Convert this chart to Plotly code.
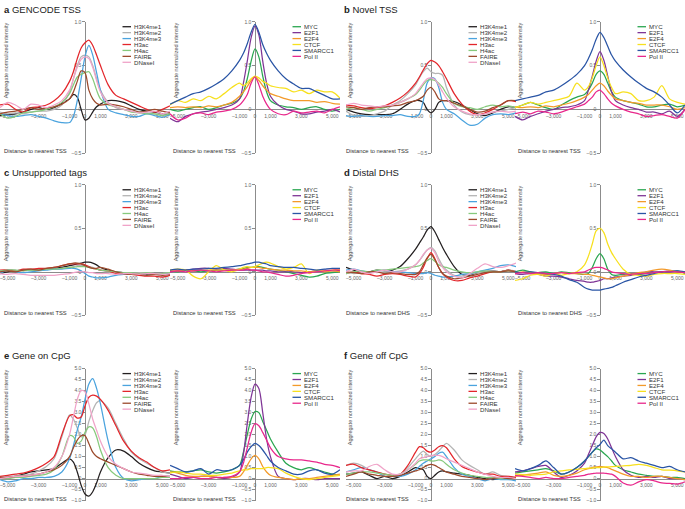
import plotly.graph_objects as go

W, H = 685, 509

# distance to nearest TSS / DHS (bp)
BP = [-5500, -5000, -4500, -4000, -3500, -3000, -2500, -2000, -1500, -1000, -750, -500, -250,
      0, 250, 500, 750, 1000, 1500, 2000, 2500, 3000, 3500, 4000, 4500, 5000, 5500]

MARK_NAMES = ["H3K4me1", "H3K4me2", "H3K4me3", "H3ac", "H4ac", "FAIRE", "DNaseI"]
TF_NAMES = ["MYC", "E2F1", "E2F4", "CTCF", "SMARCC1", "Pol II"]
MARK_COLORS = ["#231f20", "#b4b4b4", "#4aa3de", "#e3262b", "#86c97c", "#9c4a2c", "#f0a3c8"]
TF_COLORS = ["#2aa650", "#7f3596", "#f39a2a", "#f7e01e", "#2a55a5", "#e8288c"]

# ---- a GENCODE TSS ----
A_MARKS = [
    [-0.07, -0.06, -0.05, -0.03, 0.0, 0.02, 0.0, 0.02, 0.07, 0.12, 0.17, 0.14, 0.0, -0.12, -0.1, -0.03, 0.03, 0.06, 0.1, 0.1, 0.08, 0.04, 0.0, -0.02, -0.03, -0.05, -0.06],
    [-0.03, -0.05, -0.04, -0.05, -0.03, -0.02, -0.02, 0.0, 0.05, 0.2, 0.35, 0.5, 0.6, 0.62, 0.6, 0.5, 0.35, 0.22, 0.08, 0.02, 0.0, -0.02, -0.02, -0.04, -0.05, -0.06, -0.04],
    [-0.05, -0.07, -0.08, -0.07, -0.06, -0.08, -0.1, -0.13, -0.15, -0.15, -0.08, 0.1, 0.35, 0.6, 0.73, 0.62, 0.42, 0.22, 0.0, -0.04, -0.06, -0.08, -0.08, -0.05, -0.07, -0.09, -0.06],
    [0.05, 0.06, 0.0, -0.03, 0.02, 0.03, 0.05, 0.1, 0.18, 0.32, 0.43, 0.58, 0.7, 0.76, 0.79, 0.73, 0.62, 0.5, 0.28, 0.16, 0.12, 0.08, 0.04, 0.0, -0.03, 0.0, 0.04],
    [-0.05, -0.1, -0.08, -0.04, -0.03, -0.02, 0.0, 0.03, 0.08, 0.18, 0.28, 0.37, 0.4, 0.42, 0.43, 0.35, 0.22, 0.12, 0.05, 0.03, 0.0, -0.03, -0.04, -0.05, -0.05, -0.07, -0.05],
    [-0.05, -0.03, -0.02, 0.0, 0.02, 0.0, 0.02, 0.03, 0.06, 0.12, 0.2, 0.32, 0.44, 0.42, 0.22, 0.12, 0.07, 0.05, 0.06, 0.05, 0.03, 0.0, -0.03, -0.02, 0.0, -0.02, -0.04],
    [0.02, 0.08, 0.05, 0.0, 0.06, 0.05, 0.02, 0.05, 0.1, 0.22, 0.35, 0.48, 0.57, 0.6, 0.58, 0.48, 0.33, 0.2, 0.07, 0.03, 0.0, -0.02, -0.04, -0.03, -0.02, -0.05, -0.02],
]
A_TFS = [
    [0.0, -0.02, 0.0, 0.02, 0.03, 0.0, 0.02, 0.05, 0.07, 0.12, 0.2, 0.35, 0.55, 0.69, 0.6, 0.38, 0.2, 0.1, 0.05, 0.03, 0.02, 0.0, 0.02, 0.03, 0.0, -0.02, 0.0],
    [-0.1, -0.14, -0.08, -0.05, -0.03, -0.02, 0.0, 0.02, 0.05, 0.12, 0.3, 0.55, 0.82, 0.95, 0.85, 0.55, 0.3, 0.15, 0.05, 0.0, -0.02, -0.05, -0.05, -0.03, -0.02, 0.0, -0.03],
    [0.02, 0.03, 0.02, 0.03, 0.02, 0.04, 0.03, 0.05, 0.08, 0.15, 0.2, 0.26, 0.33, 0.37, 0.33, 0.27, 0.22, 0.18, 0.15, 0.12, 0.1, 0.1, 0.1, 0.08, 0.09, 0.07, 0.06],
    [0.05, 0.1, 0.08, 0.12, 0.1, 0.15, 0.12, 0.18, 0.25, 0.3, 0.27, 0.3, 0.35, 0.38, 0.36, 0.32, 0.3, 0.27, 0.25, 0.24, 0.2, 0.22, 0.18, 0.22, 0.2, 0.2, 0.13],
    [0.06, 0.1, 0.14, 0.18, 0.2, 0.24, 0.29, 0.35, 0.44, 0.56, 0.64, 0.75, 0.88, 0.97, 0.88, 0.74, 0.64, 0.56, 0.44, 0.35, 0.29, 0.24, 0.24, 0.2, 0.16, 0.12, 0.12],
    [-0.05, -0.12, -0.1, -0.05, -0.04, -0.06, -0.03, -0.02, 0.0, 0.05, 0.1, 0.17, 0.3, 0.37, 0.28, 0.15, 0.06, 0.0, -0.05, -0.06, -0.02, -0.04, -0.03, -0.02, -0.04, 0.0, 0.03],
]

# ---- b Novel TSS ----
B_MARKS = [
    [0.0, -0.03, -0.05, -0.06, -0.06, -0.06, -0.05, 0.0, 0.06, 0.1, 0.1, 0.08, 0.0, -0.04, 0.0, 0.08, 0.1, 0.1, 0.09, 0.05, 0.0, -0.05, -0.07, -0.04, 0.0, 0.03, 0.02],
    [-0.02, -0.07, -0.08, -0.07, -0.05, -0.02, 0.05, 0.1, 0.18, 0.28, 0.36, 0.43, 0.47, 0.43, 0.41, 0.41, 0.39, 0.25, 0.05, -0.03, -0.06, -0.06, -0.05, -0.03, -0.02, 0.0, 0.02],
    [-0.07, -0.08, -0.07, -0.08, -0.08, -0.07, -0.07, -0.06, -0.08, -0.08, -0.05, 0.1, 0.3, 0.36, 0.35, 0.25, 0.08, 0.0, -0.05, -0.12, -0.18, -0.17, -0.1, -0.06, -0.05, -0.06, -0.04],
    [0.05, 0.04, 0.02, 0.01, 0.02, 0.04, 0.08, 0.13, 0.2, 0.3, 0.37, 0.45, 0.52, 0.56, 0.54, 0.5, 0.43, 0.35, 0.18, 0.06, -0.02, -0.06, -0.04, 0.0, 0.05, 0.1, 0.09],
    [0.0, 0.02, 0.0, -0.02, 0.0, 0.02, 0.05, 0.08, 0.12, 0.17, 0.22, 0.28, 0.33, 0.34, 0.33, 0.3, 0.25, 0.18, 0.07, 0.03, 0.02, 0.0, 0.03, 0.05, 0.03, 0.04, 0.02],
    [0.03, 0.02, 0.0, 0.02, 0.03, 0.03, 0.04, 0.05, 0.08, 0.1, 0.12, 0.15, 0.22, 0.25, 0.2, 0.12, 0.1, 0.1, 0.07, 0.04, 0.0, -0.03, -0.02, 0.02, 0.05, 0.1, 0.1],
    [0.05, 0.07, 0.05, 0.04, 0.03, 0.04, 0.05, 0.08, 0.12, 0.18, 0.24, 0.3, 0.35, 0.36, 0.34, 0.28, 0.2, 0.13, 0.03, -0.02, -0.05, -0.06, -0.05, -0.03, -0.02, -0.03, -0.02],
]
B_TFS = [
    [0.02, 0.05, 0.08, 0.05, 0.02, 0.0, 0.05, 0.1, 0.14, 0.17, 0.22, 0.3, 0.4, 0.44, 0.4, 0.3, 0.2, 0.14, 0.1, 0.08, 0.06, 0.03, 0.03, 0.05, 0.06, 0.03, 0.05],
    [-0.08, -0.12, -0.08, -0.05, -0.02, 0.0, 0.02, 0.03, 0.05, 0.1, 0.22, 0.38, 0.55, 0.66, 0.56, 0.38, 0.2, 0.1, 0.05, 0.02, 0.0, -0.03, -0.03, -0.05, -0.02, -0.08, 0.0],
    [0.03, 0.02, 0.03, 0.02, 0.04, 0.03, 0.05, 0.07, 0.1, 0.14, 0.17, 0.22, 0.27, 0.3, 0.27, 0.21, 0.16, 0.12, 0.1, 0.08, 0.07, 0.05, 0.05, 0.05, 0.03, 0.0, 0.02],
    [0.02, 0.05, 0.08, 0.06, 0.08, 0.1, 0.12, 0.15, 0.3, 0.22, 0.26, 0.36, 0.5, 0.6, 0.5, 0.36, 0.25, 0.18, 0.2, 0.18, 0.1, 0.1, 0.14, 0.27, 0.12, 0.08, 0.06],
    [0.1, 0.12, 0.14, 0.16, 0.2, 0.22, 0.27, 0.33, 0.4, 0.5, 0.58, 0.68, 0.8, 0.88, 0.82, 0.72, 0.62, 0.55, 0.45, 0.37, 0.3, 0.24, 0.2, 0.14, 0.05, -0.04, 0.05],
    [-0.05, -0.03, -0.05, -0.02, -0.03, -0.05, -0.03, 0.0, 0.03, 0.06, 0.1, 0.14, 0.2, 0.22, 0.18, 0.12, 0.07, 0.04, 0.0, -0.03, -0.05, -0.08, -0.07, -0.06, -0.08, -0.1, 0.0],
]

# ---- c Unsupported tags ----
C_MARKS = [
    [-0.02, 0.0, 0.01, 0.02, 0.02, 0.02, 0.03, 0.04, 0.05, 0.07, 0.08, 0.09, 0.1, 0.11, 0.11, 0.1, 0.08, 0.05, 0.02, 0.0, -0.01, -0.02, -0.02, -0.03, -0.02, -0.03, -0.02],
    [0.0, 0.02, 0.02, 0.01, 0.02, 0.02, 0.03, 0.03, 0.04, 0.05, 0.06, 0.07, 0.07, 0.07, 0.06, 0.05, 0.03, 0.02, 0.0, -0.01, -0.01, -0.02, -0.01, -0.01, -0.02, -0.02, -0.01],
    [-0.02, 0.02, 0.0, -0.01, 0.0, 0.01, 0.02, 0.03, 0.03, 0.04, 0.04, 0.03, 0.01, -0.02, -0.05, -0.06, -0.07, -0.07, -0.06, -0.04, -0.03, -0.02, -0.03, -0.02, -0.03, -0.03, -0.02],
    [0.02, 0.02, 0.01, 0.03, 0.03, 0.04, 0.04, 0.05, 0.07, 0.09, 0.09, 0.09, 0.09, 0.08, 0.06, 0.04, 0.03, 0.02, 0.01, -0.02, -0.02, -0.03, -0.04, -0.05, -0.05, -0.06, -0.04],
    [0.01, 0.02, 0.02, 0.01, 0.02, 0.02, 0.03, 0.03, 0.04, 0.05, 0.05, 0.06, 0.06, 0.06, 0.05, 0.04, 0.03, 0.02, 0.01, 0.0, -0.01, -0.01, -0.02, -0.01, -0.02, -0.02, -0.01],
    [0.0, 0.01, 0.0, 0.02, 0.03, 0.02, 0.04, 0.05, 0.07, 0.09, 0.1, 0.1, 0.09, 0.07, 0.05, 0.04, 0.04, 0.05, 0.03, 0.0, -0.02, -0.03, -0.03, -0.04, -0.03, -0.04, -0.03],
    [-0.02, -0.03, -0.02, -0.03, -0.04, -0.04, -0.04, -0.04, -0.03, -0.02, -0.01, 0.0, 0.0, 0.0, -0.01, -0.01, -0.02, -0.02, -0.02, -0.03, -0.02, -0.02, -0.03, -0.02, -0.02, -0.03, -0.02],
]
C_TFS = [
    [0.01, 0.0, 0.02, 0.01, 0.0, 0.01, 0.02, 0.02, 0.02, 0.03, 0.04, 0.05, 0.05, 0.06, 0.06, 0.05, 0.04, 0.03, 0.02, 0.0, -0.02, -0.04, -0.06, -0.05, -0.02, -0.01, 0.0],
    [0.0, 0.01, 0.02, 0.03, 0.04, 0.04, 0.03, 0.04, 0.03, 0.02, 0.02, 0.02, 0.02, 0.02, 0.02, 0.02, 0.01, 0.01, 0.0, 0.0, 0.0, -0.01, 0.0, 0.01, 0.02, 0.01, 0.02],
    [0.01, 0.01, 0.02, 0.01, 0.02, 0.02, 0.02, 0.02, 0.02, 0.03, 0.03, 0.04, 0.05, 0.05, 0.05, 0.04, 0.04, 0.03, 0.02, 0.02, 0.01, 0.01, 0.0, 0.01, 0.0, 0.01, 0.0],
    [0.02, 0.03, 0.02, -0.05, -0.08, 0.0, 0.07, 0.02, 0.0, 0.03, 0.05, 0.06, 0.05, 0.06, 0.08, 0.1, 0.11, 0.1, 0.06, 0.03, 0.05, 0.09, -0.02, 0.02, 0.01, 0.02, 0.03],
    [0.02, 0.03, 0.02, 0.03, 0.03, 0.04, 0.04, 0.05, 0.06, 0.07, 0.08, 0.09, 0.1, 0.11, 0.11, 0.1, 0.09, 0.07, 0.06, 0.05, 0.05, 0.04, 0.03, 0.02, 0.03, 0.04, 0.04],
    [0.0, 0.01, 0.0, 0.01, 0.02, 0.01, 0.0, 0.01, 0.02, 0.02, 0.02, 0.03, 0.02, 0.02, 0.01, 0.0, 0.0, -0.01, -0.03, -0.05, -0.04, -0.02, -0.01, 0.0, 0.01, 0.02, 0.02],
]

# ---- d Distal DHS ----
D_MARKS = [
    [0.05, 0.02, -0.01, 0.0, 0.02, 0.01, 0.02, 0.06, 0.15, 0.26, 0.33, 0.4, 0.48, 0.52, 0.46, 0.37, 0.28, 0.2, 0.06, -0.03, -0.04, -0.01, 0.0, 0.01, 0.0, 0.02, 0.0],
    [0.0, -0.02, -0.01, 0.0, -0.01, 0.0, 0.0, 0.01, 0.03, 0.08, 0.13, 0.19, 0.25, 0.28, 0.24, 0.15, 0.07, 0.02, -0.04, -0.05, -0.03, -0.01, 0.0, 0.01, 0.0, 0.02, 0.01],
    [0.02, 0.03, 0.01, 0.0, 0.01, 0.02, 0.0, 0.0, -0.01, -0.02, -0.02, -0.02, -0.01, -0.02, -0.04, -0.05, -0.06, -0.06, -0.05, -0.03, -0.02, 0.0, 0.02, 0.04, 0.07, 0.08, 0.06],
    [-0.02, 0.0, -0.02, -0.03, -0.05, -0.03, -0.02, -0.03, -0.05, -0.06, -0.02, 0.05, 0.15, 0.22, 0.15, 0.05, -0.02, -0.06, -0.1, -0.1, -0.07, -0.05, -0.02, 0.0, 0.0, 0.02, 0.0],
    [-0.02, 0.0, 0.01, 0.0, 0.02, 0.02, 0.03, 0.04, 0.05, 0.06, 0.07, 0.1, 0.13, 0.15, 0.12, 0.08, 0.06, 0.05, 0.02, 0.0, -0.01, 0.0, 0.01, 0.0, 0.0, 0.01, 0.0],
    [0.0, -0.01, -0.02, 0.0, 0.0, -0.02, -0.01, -0.02, -0.03, -0.03, 0.0, 0.08, 0.16, 0.2, 0.14, 0.05, -0.02, -0.05, -0.08, -0.07, -0.05, -0.03, -0.01, 0.0, 0.0, 0.01, 0.0],
    [0.0, 0.03, 0.0, -0.02, 0.0, 0.02, 0.0, 0.0, 0.03, 0.08, 0.13, 0.2, 0.25, 0.27, 0.22, 0.12, 0.05, 0.0, -0.05, -0.07, -0.02, 0.04, 0.09, 0.06, 0.05, 0.07, 0.1],
]
D_TFS = [
    [0.0, 0.02, 0.0, -0.01, 0.0, -0.02, 0.0, -0.01, -0.02, -0.03, -0.02, 0.05, 0.15, 0.21, 0.15, 0.03, -0.03, -0.04, -0.03, -0.02, -0.03, -0.02, -0.01, 0.0, 0.0, 0.01, -0.02],
    [-0.02, -0.03, -0.02, -0.03, -0.05, -0.05, -0.06, -0.08, -0.1, -0.11, -0.12, -0.12, -0.11, -0.1, -0.08, -0.08, -0.07, -0.06, -0.05, -0.04, -0.02, 0.0, 0.0, 0.0, 0.01, 0.0, -0.01],
    [-0.02, 0.0, -0.01, -0.02, -0.03, -0.02, -0.01, -0.02, -0.02, -0.03, -0.03, -0.04, -0.05, -0.06, -0.07, -0.08, -0.08, -0.07, -0.05, -0.03, -0.01, 0.0, 0.02, 0.03, 0.02, 0.0, 0.0],
    [-0.1, -0.08, -0.04, -0.03, -0.05, -0.02, -0.04, -0.02, 0.0, 0.08, 0.18, 0.32, 0.47, 0.5, 0.45, 0.32, 0.22, 0.15, 0.03, -0.03, -0.04, -0.05, -0.03, -0.02, -0.02, -0.02, -0.03],
    [0.0, -0.01, 0.0, -0.01, -0.02, -0.03, -0.05, -0.09, -0.12, -0.18, -0.2, -0.21, -0.21, -0.21, -0.2, -0.19, -0.18, -0.16, -0.12, -0.09, -0.06, -0.04, -0.02, 0.0, 0.0, 0.01, 0.0],
    [-0.02, -0.01, -0.02, -0.01, -0.02, -0.02, -0.01, -0.02, -0.01, 0.0, 0.02, 0.04, 0.05, 0.05, 0.04, 0.02, 0.0, -0.01, -0.02, -0.03, -0.02, -0.02, -0.01, 0.0, 0.0, 0.0, -0.01],
]

# ---- e Gene on CpG ----
E_MARKS = [
    [0.0, 0.05, 0.1, 0.2, 0.3, 0.35, 0.4, 0.45, 0.7, 0.9, 0.75, 0.3, -0.3, -0.7, -0.8, -0.6, -0.2, 0.3, 0.95, 1.3, 1.25, 1.0, 0.7, 0.5, 0.35, 0.3, 0.25],
    [0.05, 0.1, 0.12, 0.15, 0.2, 0.35, 0.55, 0.9, 1.9, 2.9, 2.7, 2.3, 1.9, 2.0, 2.6, 3.1, 3.45, 3.55, 3.2, 2.5, 1.8, 1.2, 0.9, 0.7, 0.5, 0.3, 0.25],
    [-0.05, -0.15, -0.1, 0.0, 0.0, 0.05, 0.05, 0.1, 0.3, 0.9, 1.5, 2.2, 2.8, 3.6, 4.3, 4.55, 4.1, 3.4, 1.7, 0.5, 0.0, -0.1, -0.05, 0.0, 0.0, 0.1, 0.1],
    [0.1, 0.15, 0.2, 0.25, 0.35, 0.5, 0.7, 1.0, 2.0, 2.85, 2.9, 2.75, 2.8, 3.3, 3.7, 3.8, 3.75, 3.6, 3.1, 2.4, 1.7, 1.25, 0.95, 0.75, 0.5, 0.35, 0.4],
    [0.0, 0.0, 0.05, 0.05, 0.1, 0.15, 0.2, 0.4, 1.0, 1.95, 1.9, 1.6, 1.7, 2.1, 2.35, 2.3, 1.9, 1.3, 0.5, 0.15, 0.0, 0.0, 0.0, 0.0, 0.0, 0.05, 0.05],
    [0.05, 0.05, 0.1, 0.1, 0.15, 0.2, 0.3, 0.4, 0.6, 1.0, 1.4, 1.75, 1.95, 1.95, 1.6, 1.2, 1.0, 0.9, 0.75, 0.6, 0.45, 0.3, 0.2, 0.15, 0.1, 0.1, 0.1],
    [0.0, 0.05, 0.1, 0.1, 0.15, 0.2, 0.3, 0.5, 1.0, 2.0, 2.8, 3.6, 4.0, 3.95, 3.4, 2.7, 2.2, 1.7, 1.0, 0.65, 0.45, 0.3, 0.25, 0.2, 0.15, 0.15, 0.1],
]
E_TFS = [
    [0.35, 0.3, 0.3, 0.35, 0.4, 0.3, 0.25, 0.3, 0.4, 0.6, 1.2, 2.0, 2.7, 3.05, 3.0, 2.6, 2.2, 1.8, 1.2, 0.7, 0.5, 0.4, 0.5, 0.4, 0.3, 0.2, 0.15],
    [0.2, 0.1, 0.0, 0.05, 0.1, 0.1, 0.05, 0.0, 0.05, 0.3, 1.1, 2.5, 3.7, 4.3, 4.1, 3.0, 1.8, 1.0, 0.1, 0.0, -0.05, 0.0, 0.0, -0.05, 0.0, 0.0, 0.0],
    [0.3, 0.25, 0.15, 0.1, 0.1, 0.1, 0.05, 0.05, 0.05, 0.1, 0.3, 0.6, 0.9, 1.05, 0.9, 0.55, 0.3, 0.15, 0.05, 0.0, -0.05, 0.0, 0.0, 0.05, 0.1, 0.15, 0.2],
    [0.25, 0.3, 0.25, 0.2, 0.2, 0.15, 0.15, 0.2, 0.25, 0.35, 0.4, 0.4, 0.45, 0.45, 0.45, 0.45, 0.5, 0.5, 0.45, 0.25, 0.1, 0.0, -0.05, 0.0, 0.05, 0.1, 0.15],
    [0.6, 0.45, 0.3, 0.35, 0.45, 0.2, 0.4, 0.35, 0.4, 0.6, 0.85, 1.2, 1.45, 1.6, 1.5, 1.3, 1.05, 0.8, 0.5, 0.35, 0.2, 0.2, 0.35, 0.4, 0.25, 0.2, 0.4],
    [0.0, 0.0, 0.05, 0.05, 0.0, 0.0, 0.05, 0.05, 0.1, 0.3, 0.7, 1.4, 2.1, 2.5, 2.4, 2.1, 1.75, 1.4, 1.0, 0.9, 0.85, 0.85, 0.8, 0.75, 0.65, 0.6, 0.5],
]

# ---- f Gene off CpG ----
F_MARKS = [
    [0.2, 0.25, 0.3, 0.15, 0.0, 0.1, 0.0, 0.1, 0.3, 0.5, 0.45, 0.4, 0.1, 0.0, 0.15, 0.3, 0.35, 0.3, 0.25, 0.2, 0.15, 0.05, 0.0, -0.05, 0.0, 0.05, 0.0],
    [0.6, 0.7, 0.6, 0.4, 0.3, 0.2, 0.1, 0.2, 0.5, 0.9, 1.1, 1.25, 1.1, 1.0, 1.1, 1.25, 1.45, 1.6, 1.3, 0.85, 0.6, 0.4, 0.2, 0.3, 0.15, 0.1, 0.05],
    [0.3, 0.4, 0.5, 0.4, 0.3, 0.1, 0.1, 0.1, 0.2, 0.4, 0.55, 0.7, 0.8, 0.9, 1.0, 1.15, 1.2, 1.0, 0.5, 0.2, 0.1, 0.0, -0.1, 0.0, -0.05, -0.05, -0.1],
    [0.6, 0.65, 0.5, 0.4, 0.3, 0.2, 0.15, 0.2, 0.6, 1.2, 1.45, 1.4, 1.25, 1.2, 1.3, 1.45, 1.5, 1.4, 0.9, 0.55, 0.4, 0.3, 0.2, 0.2, 0.1, 0.1, 0.05],
    [0.2, 0.25, 0.3, 0.3, 0.25, 0.2, 0.15, 0.2, 0.4, 0.65, 0.8, 0.85, 0.85, 0.8, 0.8, 0.85, 0.8, 0.65, 0.4, 0.25, 0.15, 0.1, 0.05, 0.05, 0.0, 0.0, 0.0],
    [0.1, 0.2, 0.3, 0.2, 0.15, 0.1, 0.1, 0.15, 0.25, 0.35, 0.4, 0.5, 0.6, 0.65, 0.6, 0.5, 0.4, 0.3, 0.2, 0.1, 0.05, 0.0, -0.05, 0.0, 0.05, 0.0, 0.0],
    [0.3, 0.35, 0.35, 0.55, 0.65, 0.4, 0.2, 0.2, 0.4, 0.7, 0.9, 0.95, 1.0, 1.05, 1.05, 1.05, 1.0, 0.9, 0.75, 0.6, 0.45, 0.3, 0.2, 0.1, 0.05, 0.05, 0.0],
]
F_TFS = [
    [0.25, 0.3, 0.35, 0.4, 0.45, 0.35, 0.2, 0.3, 0.5, 0.8, 1.0, 1.2, 1.35, 1.3, 1.15, 1.0, 0.8, 0.6, 0.4, 0.3, 0.2, 0.15, 0.1, 0.1, 0.05, 0.05, 0.0],
    [0.3, 0.35, 0.45, 0.55, 0.6, 0.3, 0.05, 0.15, 0.35, 0.7, 1.1, 1.5, 1.9, 2.1, 2.05, 1.8, 1.4, 1.0, 0.4, 0.15, 0.05, 0.1, 0.05, 0.1, 0.0, 0.0, -0.05],
    [0.1, 0.15, 0.2, 0.25, 0.3, 0.15, 0.1, 0.15, 0.25, 0.4, 0.45, 0.5, 0.53, 0.55, 0.53, 0.5, 0.42, 0.35, 0.2, 0.1, 0.1, 0.05, 0.1, 0.1, 0.05, 0.0, -0.05],
    [0.2, 0.18, 0.15, 0.18, 0.2, 0.3, 0.35, 0.4, 0.42, 0.45, 0.47, 0.48, 0.5, 0.5, 0.52, 0.53, 0.54, 0.55, 0.58, 0.6, 0.65, 0.6, 0.5, 0.4, 0.38, 0.35, 0.3],
    [0.45, 0.35, 0.45, 0.6, 0.8, 0.5, 0.2, 0.3, 0.5, 0.8, 1.0, 1.2, 1.4, 1.55, 1.75, 1.5, 1.35, 1.2, 0.9, 0.95, 0.8, 0.7, 0.6, 0.5, 0.55, 0.4, 0.3],
    [0.15, 0.1, 0.05, 0.0, 0.05, 0.0, 0.0, 0.05, 0.1, 0.15, 0.2, 0.22, 0.25, 0.25, 0.25, 0.22, 0.2, 0.1, -0.2, -0.3, -0.15, -0.05, -0.1, -0.2, -0.22, -0.25, -0.15],
]

XTICKS = [-5000, -3000, -1000, 0, 1000, 3000, 5000]
XTICK_TEXT = ["\u20135,000", "\u20133,000", "\u20131,000", "0", "1,000", "3,000", "5,000"]
YTICKS_SMALL = [-0.5, 0, 0.5, 1.0]
YTICK_SMALL_TEXT = ["\u20130.5", "0", "0.5", "1.0"]
YTICKS_LARGE = [-1.0, -0.5, 0, 0.5, 1.0, 1.5, 2.0, 2.5, 3.0, 3.5, 4.0, 4.5, 5.0]
YTICK_LARGE_TEXT = ["\u20131.0", "\u20130.5", "0", "0.5", "1.0", "1.5", "2.0", "2.5", "3.0", "3.5", "4.0", "4.5", "5.0"]

PANELS = [
    ("a", "GENCODE TSS", "TSS", A_MARKS, A_TFS),
    ("b", "Novel TSS", "TSS", B_MARKS, B_TFS),
    ("c", "Unsupported tags", "TSS", C_MARKS, C_TFS),
    ("d", "Distal DHS", "DHS", D_MARKS, D_TFS),
    ("e", "Gene on CpG", "TSS", E_MARKS, E_TFS),
    ("f", "Gene off CpG", "TSS", F_MARKS, F_TFS),
]

# layout geometry (pixels)
FONT = "Liberation Sans, Arial, Helvetica, sans-serif"
COL_LEFT = [0, 170, 346, 515]
COL_W = 170
ROW_TOP = [19, 184, 370]
ROW_BOT = [152, 316, 503.5]
ROW_RANGE = [[-0.5, 1.0], [-0.5, 1.0], [-1.0, 5.0]]
TITLE_Y = [6.5, 172, 357]
TITLE_X = [3, 343]
YLABEL_X = [6, 176, 350, 520]
XLABEL_X = [3, 172, 345, 517]
AXIS_COLOR = "#8c8c8c"


def px_x(p):
    return p / W


def px_y(p):
    return 1 - p / H


fig = go.Figure()
layout = dict(width=W, height=H, margin=dict(l=0, r=0, t=0, b=0),
              paper_bgcolor="white", plot_bgcolor="rgba(0,0,0,0)",
              font=dict(family=FONT, color="#333"), showlegend=False)
annotations = []
shapes = []

k = 0
for p_idx, (letter, title, ref, marks, tfs) in enumerate(PANELS):
    row = p_idx // 2
    pair = p_idx % 2
    annotations.append(dict(x=px_x(TITLE_X[pair]), y=px_y(TITLE_Y[row]), xref="paper", yref="paper",
                            xanchor="left", yanchor="middle", showarrow=False, borderpad=0,
                            text=f"<b>{letter}</b> {title}", font=dict(size=9.5, color="#222", family=FONT)))
    for sub, (series, names, colors) in enumerate([(marks, MARK_NAMES, MARK_COLORS), (tfs, TF_NAMES, TF_COLORS)]):
        k += 1
        col = pair * 2 + sub
        left = COL_LEFT[col]
        top, bot = ROW_TOP[row], ROW_BOT[row]
        yr = ROW_RANGE[row]
        xr = [-5500, 5500]
        ydom = [px_y(bot), px_y(top)]
        xdom = [px_x(left), px_x(left + COL_W)]
        y0 = ydom[0] + (0 - yr[0]) / (yr[1] - yr[0]) * (ydom[1] - ydom[0])
        x0 = xdom[0] + (0 - xr[0]) / (xr[1] - xr[0]) * (xdom[1] - xdom[0])
        small = row < 2
        xa = "xaxis" if k == 1 else f"xaxis{k}"
        ya = "yaxis" if k == 1 else f"yaxis{k}"
        layout[xa] = dict(domain=xdom, range=xr, anchor="free", position=y0, showline=True,
                          linecolor=AXIS_COLOR, linewidth=1.3, showgrid=False, zeroline=False,
                          tickvals=XTICKS, ticktext=XTICK_TEXT, ticks="", ticklabelstandoff=1,
                          tickfont=dict(size=5, color="#666", family=FONT), layer="below traces",
                          fixedrange=True)
        layout[ya] = dict(domain=ydom, range=yr, anchor="free", position=x0, showline=True,
                          linecolor=AXIS_COLOR, linewidth=1.3, showgrid=False, zeroline=False,
                          tickvals=YTICKS_SMALL if small else YTICKS_LARGE,
                          ticktext=YTICK_SMALL_TEXT if small else YTICK_LARGE_TEXT,
                          ticks="outside", ticklen=2.5, tickcolor=AXIS_COLOR, tickwidth=1,
                          tickfont=dict(size=5, color="#666", family=FONT), layer="below traces",
                          fixedrange=True)
        xref = "x" if k == 1 else f"x{k}"
        yref = "y" if k == 1 else f"y{k}"
        for vals, name, color in zip(series, names, colors):
            fig.add_trace(go.Scatter(x=BP, y=vals, name=name, mode="lines", xaxis=xref, yaxis=yref,
                                     line=dict(color=color, width=1.25, shape="spline", smoothing=0.8),
                                     hoverinfo="skip", showlegend=False))
        # axis titles
        annotations.append(dict(x=px_x(YLABEL_X[col]), y=px_y(top + 39), xref="paper", yref="paper",
                                xanchor="center", yanchor="middle", textangle=-90, showarrow=False,
                                borderpad=0, text="Aggregate normalized intensity",
                                font=dict(size=5.5, color="#555", family=FONT)))
        annotations.append(dict(x=px_x(XLABEL_X[col]), y=px_y(bot - 2), xref="paper", yref="paper",
                                xanchor="left", yanchor="middle", showarrow=False, borderpad=0,
                                text=f"Distance to nearest {ref}",
                                font=dict(size=5.8, color="#333", family=FONT)))
        # hand-drawn legend
        for i, (name, color) in enumerate(zip(names, colors)):
            yy = px_y(top + 5.0 + i * 6.0)
            shapes.append(dict(type="line", xref="paper", yref="paper",
                               x0=px_x(left + 122.5), x1=px_x(left + 131), y0=yy, y1=yy,
                               line=dict(color=color, width=1.3)))
            annotations.append(dict(x=px_x(left + 133), y=yy, xref="paper", yref="paper",
                                    xanchor="left", yanchor="middle", showarrow=False, borderpad=0,
                                    text=name, font=dict(size=6.1, color="#333", family=FONT)))

layout["annotations"] = annotations
layout["shapes"] = shapes
fig.update_layout(**layout)
fig.write_html("out.html", config={"displayModeBar": False},
               post_script="document.body.style.margin='0';document.body.style.padding='0';")
